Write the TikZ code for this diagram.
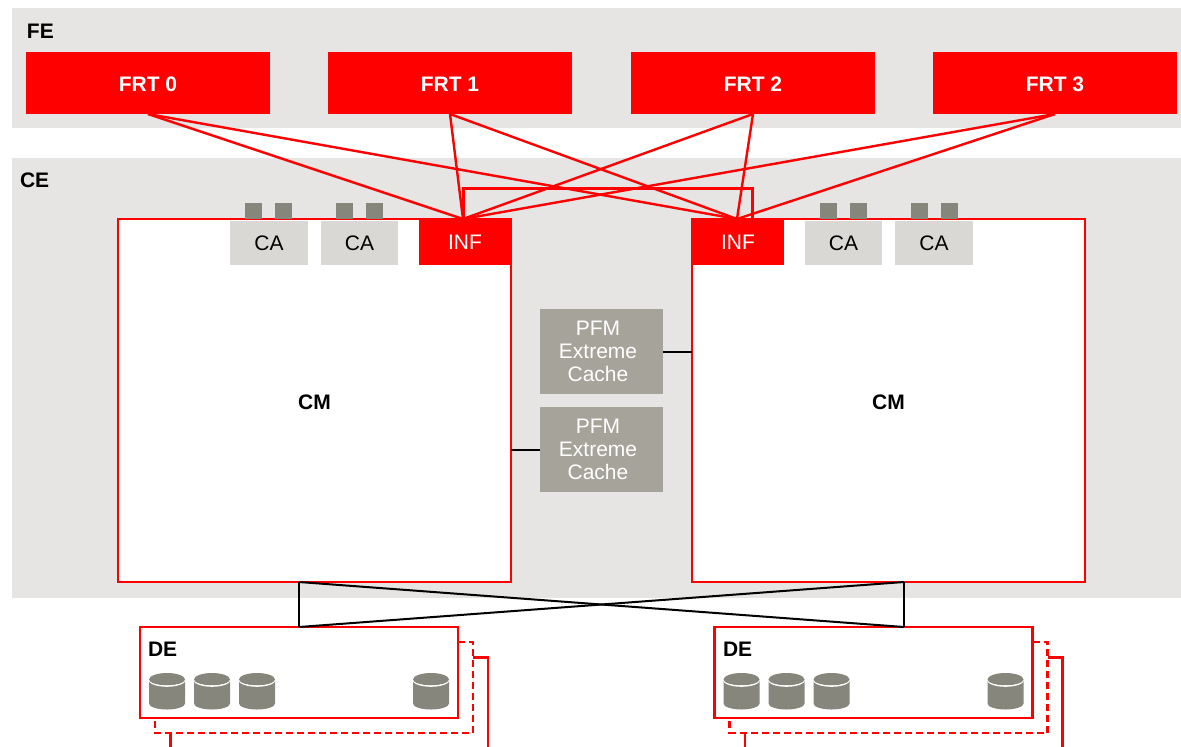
\documentclass[tikz,border=0pt]{standalone}
\usepackage{fontspec}
\setmainfont{Liberation Sans}
\definecolor{bandgray}{HTML}{E6E5E3}
\definecolor{cagray}{HTML}{D9D8D4}
\definecolor{portgray}{HTML}{87867C}
\definecolor{pfmgray}{HTML}{A6A39B}
\definecolor{frtred}{HTML}{FF0000}
\tikzset{
  every node/.style={font=\fontsize{21}{23}\selectfont, inner sep=0pt, outer sep=0pt},
  band/.style={fill=bandgray, minimum width=1169pt},
  frtbox/.style={fill=frtred, text=white, font=\fontsize{21}{23}\selectfont\bfseries, text height=17pt, text depth=0pt, minimum width=244pt, minimum height=62pt},
  cmbox/.style={draw=frtred, line width=2.4pt, fill=white, font=\fontsize{21}{23}\selectfont\bfseries, text height=17pt, text depth=0pt, minimum width=393pt, minimum height=363pt},
  infbox/.style={fill=frtred, text=white, minimum width=92pt, minimum height=46pt},
  cabox/.style={fill=cagray, text=black, minimum width=77.5pt, minimum height=44pt},
  portbox/.style={fill=portgray, minimum width=17pt, minimum height=16pt},
  pfmbox/.style={fill=pfmgray, text=white, minimum width=123pt, minimum height=85pt},
  debox/.style={draw=frtred, line width=2.4pt, fill=white, minimum width=318pt, minimum height=91pt},
  lbl/.style={anchor=west, font=\fontsize{21}{23}\selectfont\bfseries},
  redline/.style={draw=frtred, line width=2.4pt},
  blackline/.style={draw=black, line width=2pt},
  backline/.style={draw=frtred, line width=2.2pt, dash pattern=on 7pt off 4pt},
}
\newcommand{\pfmtext}{\begin{tabular}{@{}c@{}}\rule{0pt}{20.1pt}PFM\\Extreme\\Cache\end{tabular}\kern7pt}
\newcommand{\drumfig}[2]{%
  \fill[portgray] (#1,#2+6.5) -- (#1,#2+30.5) arc[start angle=180,end angle=0,x radius=18,y radius=6] -- (#1+36,#2+6.5) -- cycle;
  \draw[draw=white,line width=1.6pt] (#1,#2+6.5) arc[start angle=180,end angle=0,x radius=18,y radius=6.5];
  \fill[portgray] (#1,#2+6.5) arc[start angle=180,end angle=360,x radius=18,y radius=6.5] arc[start angle=0,end angle=180,x radius=18,y radius=5.6] -- cycle;
}
\newcommand{\debacks}[1]{%
  \draw[backline] ([yshift=-15pt]#1.north east) -- ++(15,0) |- ([xshift=15pt,yshift=-15pt]#1.south west) -- ([xshift=15pt]#1.south west);
  \draw[redline] ([xshift=15pt,yshift=-30.5pt]#1.north east) -- ++(15,0) -- ++(0,90);
  \draw[redline] ([xshift=30.5pt,yshift=-15pt]#1.south west) -- ++(0,14);
}
\begin{document}
\begin{tikzpicture}[x=1pt,y=-1pt]
\useasboundingbox (0,0) rectangle (1181,747);
\node[band, minimum height=120pt] (feband) at (596.5,68) {};
\node[band, minimum height=440pt] (ceband) at (596.5,378) {};
\node[lbl] (felabel) at (27,31) {FE};
\node[lbl] (celabel) at (20,180) {CE};

\node[frtbox] (frt0) at (148,83) {FRT 0};
\node[frtbox] (frt1) at (450,83) {FRT 1};
\node[frtbox] (frt2) at (753,83) {FRT 2};
\node[frtbox] (frt3) at (1055,83) {FRT 3};

\node[cmbox] (cml) at (314.5,400.5) {CM};
\node[cmbox] (cmr) at (888.5,400.5) {CM};

\node[cabox] (ca1) at (269,243) {CA};
\node[cabox] (ca2) at (359.5,243) {CA};
\node[cabox] (ca3) at (843.5,243) {CA};
\node[cabox] (ca4) at (934,243) {CA};
\node[infbox] (infl) at (465,242) {INF};
\node[infbox] (infr) at (738,242) {INF};

\node[portbox] (p1) at (253.5,210.5) {};
\node[portbox] (p2) at (283.5,210.5) {};
\node[portbox] (p3) at (344.5,210.5) {};
\node[portbox] (p4) at (374.5,210.5) {};
\node[portbox] (p5) at (828.5,210.5) {};
\node[portbox] (p6) at (858.5,210.5) {};
\node[portbox] (p7) at (919.5,210.5) {};
\node[portbox] (p8) at (949.5,210.5) {};

\node[pfmbox] (pfm1) at (601.5,351.5) {\pfmtext};
\node[pfmbox] (pfm2) at (601.5,449.5) {\pfmtext};

\draw[blackline] (pfm1.east) -- (pfm1.east -| cmr.west);
\draw[blackline] (pfm2.west) -- (pfm2.west -| cml.east);

\node[debox] (del) at (299,672.5) {};
\node[debox] (der) at (873.5,672.5) {};
\debacks{del}
\debacks{der}
\node[lbl] (delabl) at (148,649) {DE};
\node[lbl] (delabr) at (723,649) {DE};

\drumfig{149}{673}
\drumfig{194}{673}
\drumfig{239}{673}
\drumfig{413}{673}
\drumfig{723.5}{673}
\drumfig{768.5}{673}
\drumfig{813.5}{673}
\drumfig{987.5}{673}

\foreach \f in {frt0,frt1,frt2,frt3}{
  \draw[redline] (\f.south) -- ([xshift=-2pt]infl.north);
  \draw[redline] (\f.south) -- ([xshift=-1pt]infr.north);
}
\draw[redline, line width=3pt, line join=miter]
  ([xshift=-2pt]infl.north) -- ([xshift=-2pt,yshift=31pt]infl.north) -| ([xshift=14pt]infr.north);

\draw[blackline] ([xshift=-15.5pt]cml.south) -- (del.north);
\draw[blackline] ([xshift=15.5pt]cmr.south) -- ([xshift=30.5pt]der.north);
\draw[blackline] ([xshift=-15.5pt]cml.south) -- ([xshift=30.5pt]der.north);
\draw[blackline] ([xshift=15.5pt]cmr.south) -- (del.north);
\end{tikzpicture}
\end{document}
